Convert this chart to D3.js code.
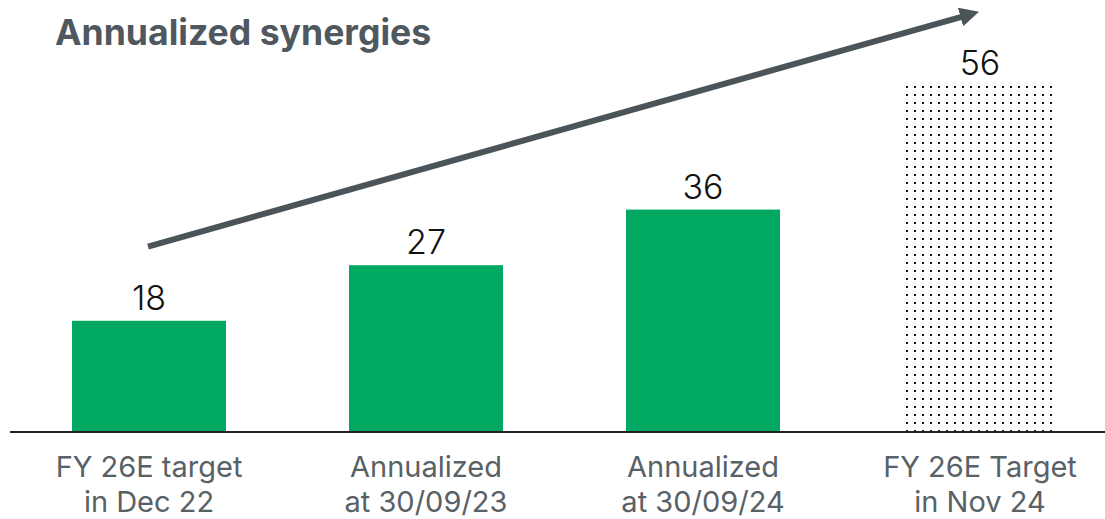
<!DOCTYPE html>
<html>
<head>
<meta charset="utf-8">
<script src="https://cdn.jsdelivr.net/npm/d3@7/dist/d3.min.js"></script>
<style>
  html, body { margin: 0; padding: 0; background: #ffffff; }
  svg { display: block; }
</style>
</head>
<body>
<svg id="chart" width="1105" height="519"></svg>
<script>
// Annualized synergies by milestone
const categories = [
  ["FY 26E target", "in Dec 22"],
  ["Annualized", "at 30/09/23"],
  ["Annualized", "at 30/09/24"],
  ["FY 26E Target", "in Nov 24"]
];
const values = [18, 27, 36, 56];
const valueLabels = ["18", "27", "36", "56"];
const isTarget = [false, false, false, true];
// Trend arrow endpoints: [category index, value]
const trendFrom = [0, 30];
const trendTo = [3, 68];

const baseY = 432;
const svg = d3.select("#chart");
const font = "Inter, 'Noto Sans', sans-serif";

const x = d3.scaleBand()
  .domain(d3.range(categories.length))
  .range([16.6, 1112.4])
  .paddingInner(0.444)
  .paddingOuter(0.2);
const cx = i => x(i) + x.bandwidth() / 2;

const y = d3.scaleLinear()
  .domain([0, 56])
  .range([baseY, 86]);

const defs = svg.append("defs");
const pat = defs.append("pattern")
  .attr("id", "dots")
  .attr("patternUnits", "userSpaceOnUse")
  .attr("x", 906).attr("y", 86)
  .attr("width", 8).attr("height", 8);
pat.append("rect").attr("x", 0).attr("y", 0).attr("width", 2).attr("height", 2).attr("fill", "#111");

const headLen = 3.2, headRef = 2;
defs.append("marker")
  .attr("id", "head")
  .attr("viewBox", "0 0 10 10")
  .attr("refX", headRef).attr("refY", 5)
  .attr("markerWidth", headLen).attr("markerHeight", 3.2)
  .attr("markerUnits", "strokeWidth")
  .attr("orient", "auto")
  .append("path")
  .attr("d", "M0,0 L10,5 L0,10 Z")
  .attr("fill", "#4b5559");

// Bars
svg.append("g").selectAll("rect")
  .data(values)
  .join("rect")
  .attr("x", (d, i) => x(i))
  .attr("y", d => y(d))
  .attr("width", x.bandwidth())
  .attr("height", d => baseY - y(d))
  .attr("fill", (d, i) => isTarget[i] ? "url(#dots)" : "#00a862");

// Baseline
svg.append("line")
  .attr("x1", 10).attr("x2", 1105)
  .attr("y1", baseY).attr("y2", baseY)
  .attr("stroke", "#222").attr("stroke-width", 2);

// Value labels
svg.append("g").selectAll("text")
  .data(values)
  .join("text")
  .attr("x", (d, i) => cx(i))
  .attr("y", d => y(d) - 11)
  .attr("text-anchor", "middle")
  .attr("font-family", font)
  .attr("font-size", 34)
  .attr("font-weight", 300)
  .attr("fill", "#111")
  .text((d, i) => valueLabels[i]);

// Category labels
const cat = svg.append("g").selectAll("text")
  .data(categories)
  .join("text")
  .attr("x", (d, i) => cx(i))
  .attr("y", 477)
  .attr("text-anchor", "middle")
  .attr("font-family", font)
  .attr("font-size", 29)
  .attr("fill", "#586166");
cat.selectAll("tspan")
  .data(d => d)
  .join("tspan")
  .attr("x", function() { return d3.select(this.parentNode).attr("x"); })
  .attr("dy", (d, j) => j === 0 ? 0 : 35)
  .text(d => d);

// Title
svg.append("text")
  .attr("x", 55).attr("y", 45)
  .attr("font-family", font)
  .attr("font-size", 35.6)
  .attr("font-weight", 700)
  .attr("fill", "#4f585e")
  .text("Annualized synergies");

// Trend arrow: line ends short of the tip so the marker lands on it
const sw = 6;
const p0 = [cx(trendFrom[0]) - 1, y(trendFrom[1])];
const tip = [cx(trendTo[0]) - 1, y(trendTo[1])];
const len = Math.hypot(tip[0] - p0[0], tip[1] - p0[1]);
const back = (10 - headRef) / 10 * headLen * sw;
const p1 = [tip[0] - (tip[0] - p0[0]) / len * back, tip[1] - (tip[1] - p0[1]) / len * back];
svg.append("line")
  .attr("x1", p0[0]).attr("y1", p0[1])
  .attr("x2", p1[0]).attr("y2", p1[1])
  .attr("stroke", "#4b5559")
  .attr("stroke-width", sw)
  .attr("marker-end", "url(#head)");
</script>
</body>
</html>
